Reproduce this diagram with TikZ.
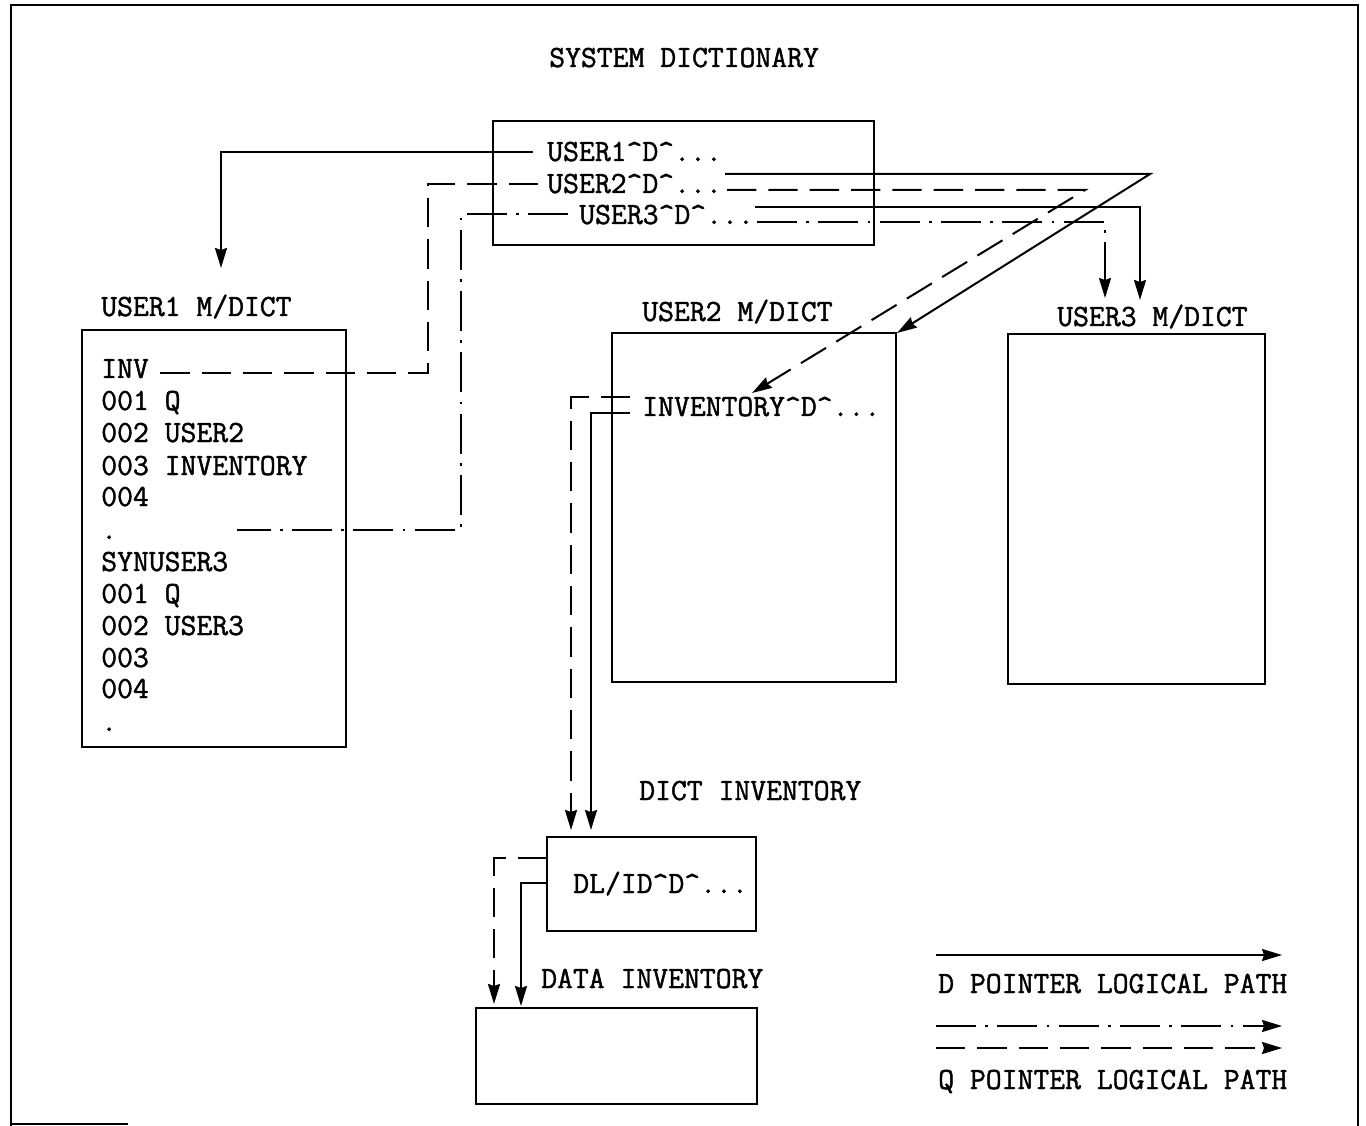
\documentclass[tikz,border=0pt]{standalone}
\usepackage{fontspec}
\newfontfamily\twfont[FakeBold=1.4]{Latin Modern Mono}
\usetikzlibrary{arrows.meta}
\newcommand\myc{\textasciicircum}
\tikzset{
  ln/.style={line width=1.5pt},
  boxstyle/.style={draw, line width=1.5pt, inner sep=0pt},
  txt/.style={font=\twfont\fontsize{23.1pt}{27pt}\selectfont, inner sep=0pt, anchor=base west},
  tip/.style={-{Stealth[length=15pt,width=9pt,inset=1.5pt]}},
  qdash/.style={dash pattern=on 22pt off 9pt},
  qdot/.style={dash pattern=on 30pt off 7pt on 2pt off 7pt},
}
\begin{document}
\begin{tikzpicture}[x=0.75pt,y=-0.75pt]
\useasboundingbox (0,0) rectangle (1366,1126);
% frame
\draw[ln] (11,1126) -- (11,5) -- (1358,5) -- (1358,1126);
\draw[ln] (11,1124) -- (128,1124);

% boxes
\node[boxstyle, minimum width=381*0.75pt, minimum height=124*0.75pt] (sysbox) at (683.5,183) {};
\node[boxstyle, minimum width=264*0.75pt, minimum height=417*0.75pt] (u1box) at (214,538.5) {};
\node[boxstyle, minimum width=284*0.75pt, minimum height=349*0.75pt] (u2box) at (754,507.5) {};
\node[boxstyle, minimum width=257*0.75pt, minimum height=350*0.75pt] (u3box) at (1136.5,509) {};
\node[boxstyle, minimum width=209*0.75pt, minimum height=94*0.75pt] (dictbox) at (651.5,884) {};
\node[boxstyle, minimum width=281*0.75pt, minimum height=96*0.75pt] (databox) at (616.5,1056) {};

% titles
\node[txt] (tsys) at (549,67) {SYSTEM DICTIONARY};
\node[txt] (tu1) at (101,316) {USER1 M/DICT};
\node[txt] (tu2) at (642,321) {USER2 M/DICT};
\node[txt] (tu3) at (1057,326) {USER3 M/DICT};
\node[txt] (tdict) at (639,800) {DICT INVENTORY};
\node[txt] (tdata) at (541,988) {DATA INVENTORY};

% system dictionary entries
\node[txt] (e1) at (547,161) {USER1\myc D\myc ...};
\node[txt] (e2) at (547,193) {USER2\myc D\myc ...};
\node[txt] (e3) at (579,224) {USER3\myc D\myc ...};

% user1 contents
\node[txt] (l1) at (101,378) {INV};
\node[txt] (l2) at (101,410) {001 Q};
\node[txt] (l3) at (101,442) {002 USER2};
\node[txt] (l4) at (101,475) {003 INVENTORY};
\node[txt] (l5) at (101,506) {004};
\node[txt] (l6) at (101,539) {.};
\node[txt] (l7) at (101,571) {SYNUSER3};
\node[txt] (l8) at (101,603) {001 Q};
\node[txt] (l9) at (101,635) {002 USER3};
\node[txt] (l10) at (101,667) {003};
\node[txt] (l11) at (101,698) {004};
\node[txt] (l12) at (101,731) {.};

% user2 contents
\node[txt] (inv) at (642,416) {INVENTORY\myc D\myc ...};
% dict contents
\node[txt] (dlid) at (573,893) {DL/ID\myc D\myc ...};

% legend
\node[txt] (leg1) at (938,993) {D POINTER LOGICAL PATH};
\node[txt] (leg2) at (938,1089) {Q POINTER LOGICAL PATH};

% coordinates
\coordinate (a1s) at (533,152);
\coordinate (a1e) at (221,268);
\coordinate (q2s) at (538,184);
\coordinate (q2e) at (160,373);
\coordinate (q3s) at (568,214);
\coordinate (q3e) at (237,530);
\coordinate (d2s) at (725,174);
\coordinate (d2c) at (1150,174);
\coordinate (d2e) at (897,333);
\coordinate (q2bs) at (727,190);
\coordinate (q2bc) at (1085,190);
\coordinate (q2be) at (752,393);
\coordinate (d3s) at (755,207);
\coordinate (d3e) at (1140,300);
\coordinate (q3bs) at (757,222);
\coordinate (q3be) at (1105,298);
\coordinate (iqs) at (630,397);
\coordinate (iqe) at (571,830);
\coordinate (ids) at (630,413);
\coordinate (ide) at (591,830);
\coordinate (xqs) at (547,858);
\coordinate (xqe) at (494,1004);
\coordinate (xds) at (547,883);
\coordinate (xde) at (521,1006);
\coordinate (g1s) at (936,955);
\coordinate (g1e) at (1282,955);
\coordinate (g2s) at (936,1026);
\coordinate (g2e) at (1282,1026);
\coordinate (g3s) at (936,1048);
\coordinate (g3e) at (1282,1048);

% connectors
\draw[ln,tip] (a1s) -| (a1e);
\draw[ln,qdash] (q2s) -- (428,184) -- (428,373) -- (q2e);
\draw[ln,qdot] (q3s) -- (461,214) -- (461,530) -- (q3e);
\draw[ln,tip] (d2s) -- (d2c) -- (d2e);
\draw[ln,qdash,tip] (q2bs) -- (q2bc) -- (q2be);
\draw[ln,tip] (d3s) -| (d3e);
\draw[ln,qdot,tip] (q3bs) -| (q3be);
\draw[ln,qdash,tip] (iqs) -| (iqe);
\draw[ln,tip] (ids) -| (ide);
\draw[ln,qdash,tip] (xqs) -| (xqe);
\draw[ln,tip] (xds) -| (xde);
\draw[ln,tip] (g1s) -- (g1e);
\draw[ln,qdot,tip] (g2s) -- (g2e);
\draw[ln,qdash,tip] (g3s) -- (g3e);
\end{tikzpicture}
\end{document}
